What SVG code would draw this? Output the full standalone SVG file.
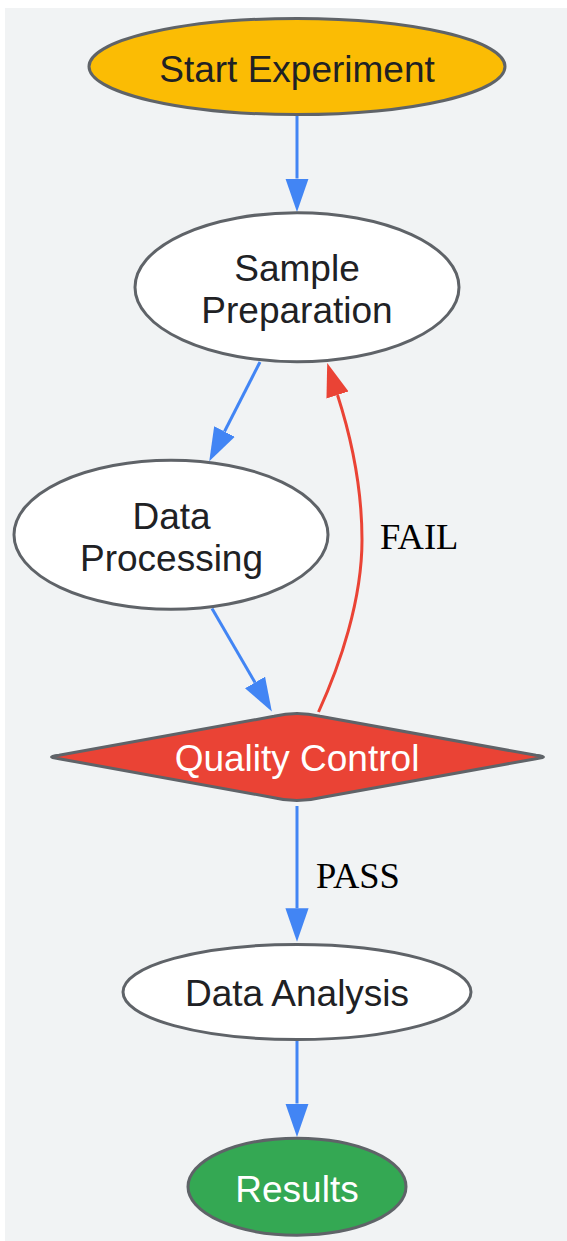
<svg xmlns="http://www.w3.org/2000/svg" width="567" height="1241" viewBox="0 0 567 1241">
<style>
.node{stroke:#5f6368;stroke-width:3}
.lbl{font-family:"Liberation Sans",Arial,sans-serif;font-size:37px;text-anchor:middle;fill:#202124}
.wt{fill:#ffffff}
.edge{fill:none;stroke:#4285f4;stroke-width:3}
.fail{fill:none;stroke:#ea4335;stroke-width:3}
.elbl{font-family:"Liberation Serif","Times New Roman",serif;font-size:36.5px;fill:#000000}
</style>
<defs>
<marker id="ab" markerUnits="userSpaceOnUse" viewBox="0 -12 34 24" refX="0" refY="0" markerWidth="34" markerHeight="24" orient="auto">
<path d="M0,-11.6 L33.5,0 L0,11.6 Z" fill="#4285f4"/>
</marker>
<marker id="ar" markerUnits="userSpaceOnUse" viewBox="0 -12 34 24" refX="0" refY="0" markerWidth="34" markerHeight="24" orient="auto">
<path d="M0,-11.6 L33.5,0 L0,11.6 Z" fill="#ea4335"/>
</marker>
</defs>
<rect x="5" y="8" width="562" height="1233" fill="#f1f3f4"/>
<g id="edges">
<path class="edge" d="M297,115 L297,178.5" marker-end="url(#ab)"/>
<path class="edge" d="M260,362 L224.5,431.5" marker-end="url(#ab)"/>
<path class="edge" d="M212,608.5 L255,682.5" marker-end="url(#ab)"/>
<path class="fail" d="M318.5,712 C340,665 362,600 362,540 C362,490 352,440 337.5,395" marker-end="url(#ar)"/>
<text class="elbl" x="380" y="549">FAIL</text>
<path class="edge" d="M297,806 L297,908.3" marker-end="url(#ab)"/>
<text class="elbl" x="316" y="888">PASS</text>
<path class="edge" d="M297,1041 L297,1103.5" marker-end="url(#ab)"/>
</g>
<g id="start">
<ellipse class="node" cx="297" cy="66.5" rx="208" ry="48" fill="#fbbc04"/>
<text class="lbl" x="297" y="82">Start Experiment</text>
</g>
<g id="sample">
<ellipse class="node" cx="297" cy="287.2" rx="162" ry="74.5" fill="#ffffff"/>
<text class="lbl" x="297" y="281">Sample</text>
<text class="lbl" x="297" y="323">Preparation</text>
</g>
<g id="processing">
<ellipse class="node" cx="171" cy="534.7" rx="157" ry="74.5" fill="#ffffff"/>
<text class="lbl" x="171.5" y="529">Data</text>
<text class="lbl" x="171.5" y="571">Processing</text>
</g>
<g id="qc">
<path class="node" d="M274,716.3 Q297,710.5 320,716.3 L536,755.3 Q551,757 536,758.7 L320,797.7 Q297,803.5 274,797.7 L59,758.7 Q44,757 59,755.3 Z" fill="#ea4335"/>
<text class="lbl wt" x="297" y="771">Quality Control</text>
</g>
<g id="analysis">
<ellipse class="node" cx="297" cy="992" rx="174" ry="47.5" fill="#ffffff"/>
<text class="lbl" x="297" y="1006">Data Analysis</text>
</g>
<g id="results">
<ellipse class="node" cx="297" cy="1186.7" rx="109" ry="48.5" fill="#34a853"/>
<text class="lbl wt" x="297" y="1201.5">Results</text>
</g>
</svg>
